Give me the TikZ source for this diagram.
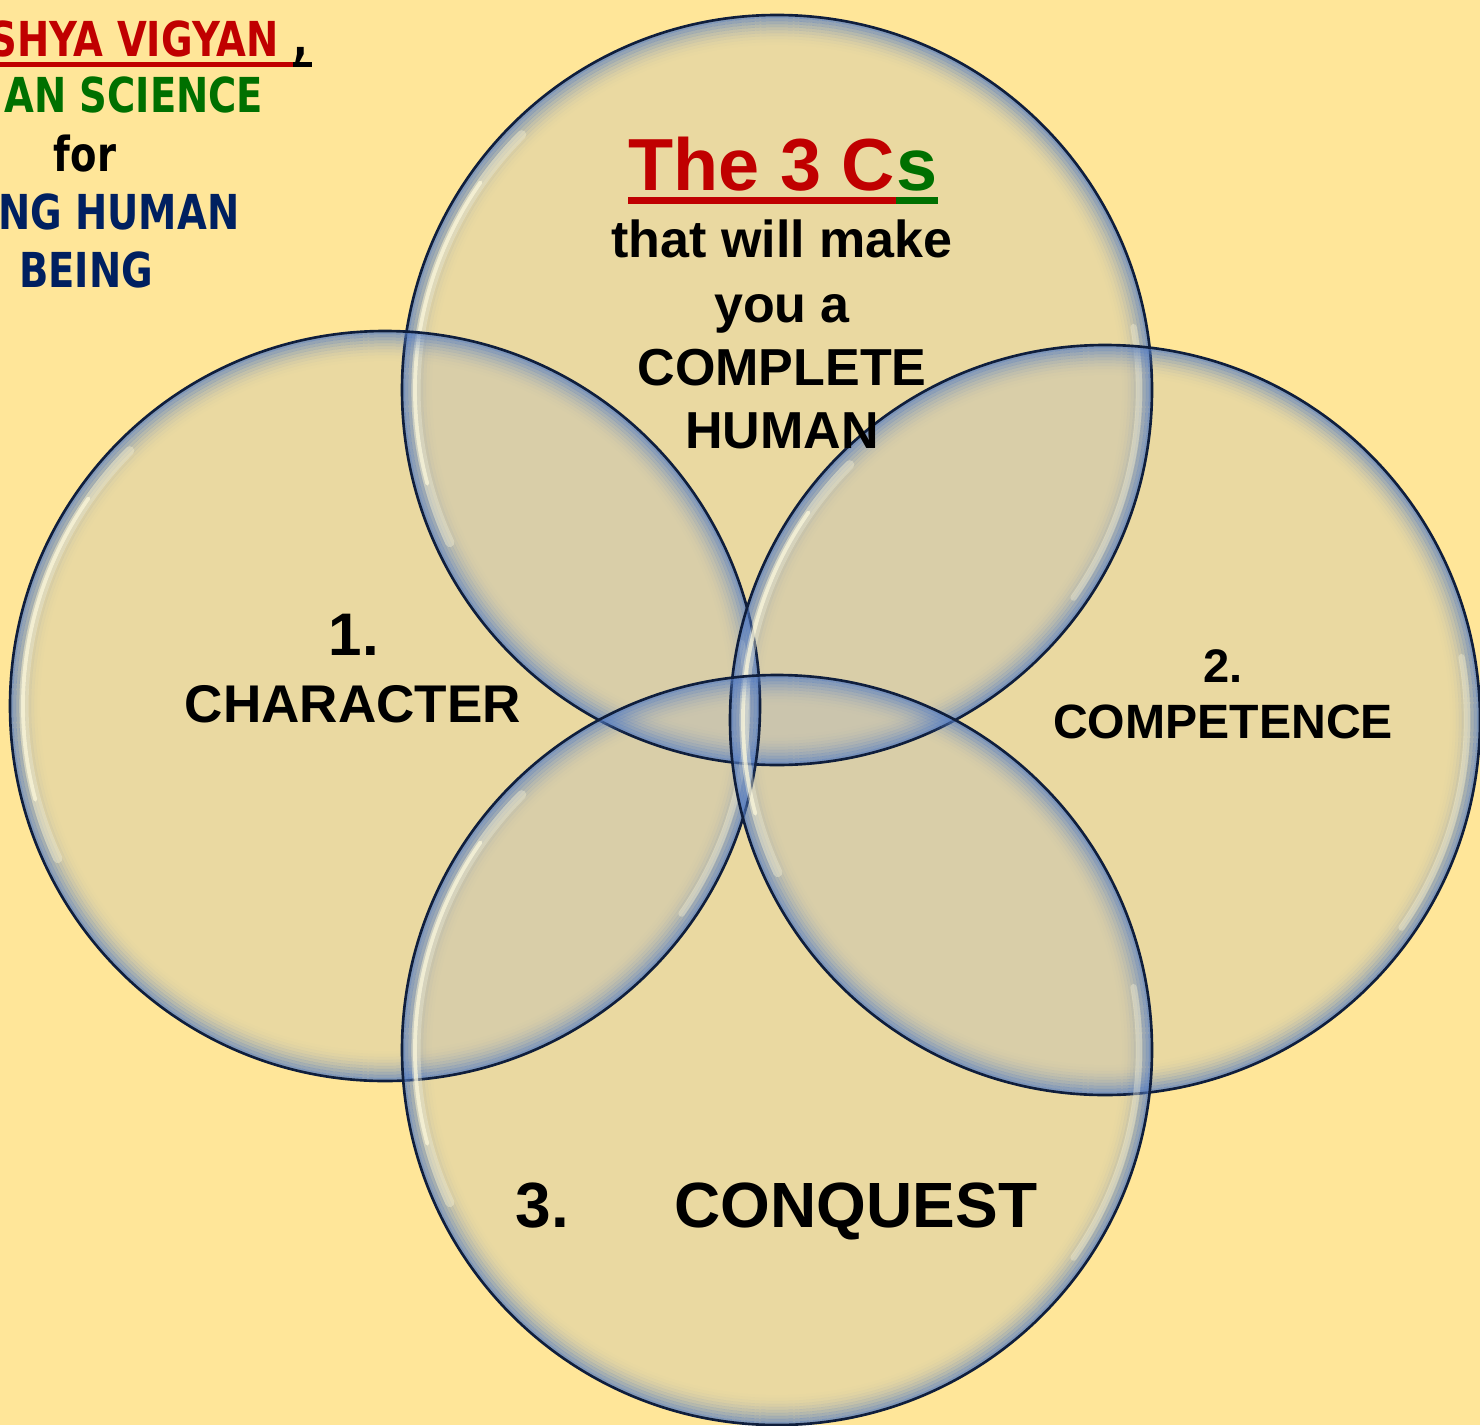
\documentclass[tikz,border=0pt]{standalone}
\usepackage{fontspec}
\setmainfont{Liberation Sans}
\newfontfamily\leftfont[FakeStretch=0.8]{DejaVu Sans}

\definecolor{bgyellow}{RGB}{255,230,153}
\definecolor{bubblefill}{RGB}{140,160,200}
\definecolor{glowblue}{RGB}{85,125,195}
\definecolor{rimnavy}{RGB}{15,30,60}
\definecolor{shine}{RGB}{255,250,220}
\definecolor{titlered}{RGB}{192,0,0}
\definecolor{titlegreen}{RGB}{0,112,0}
\definecolor{navytext}{RGB}{0,32,96}

\tikzset{
  bubble/.style={fill=bubblefill, fill opacity=0.18},
  rim/.style={draw=rimnavy, line width=0.75pt},
  txt/.style={inner sep=0pt, anchor=base, font=\bfseries\fontsize{#1}{#1}\selectfont},
  lefttxt/.style={inner sep=0pt, font=\leftfont\bfseries\fontsize{13.7}{16}\selectfont},
}

% glassy ring: blue glow inside the rim, a thin dark rim and two light streaks
\newcommand{\glassring}[1]{%
  \foreach \k [evaluate=\k as \op using 0.85*(1-\k/11)^2] in {1,...,10}
    \draw[glowblue, line width=0.9pt, draw opacity=\op] (#1) circle[radius=375-3*\k+1.5];
  \draw[shine, line width=2.6pt, draw opacity=0.35, line cap=round]
    (#1) ++(-135:361) arc[start angle=-135, end angle=-205, radius=361];
  \draw[shine, line width=1.1pt, draw opacity=0.7, line cap=round]
    (#1) ++(-145:362) arc[start angle=-145, end angle=-195, radius=362];
  \draw[shine, line width=1.8pt, draw opacity=0.35, line cap=round]
    (#1) ++(35:362) arc[start angle=35, end angle=-10, radius=362];
  \draw[rim] (#1) circle[radius=375];
}

\begin{document}
\begin{tikzpicture}[x=0.1mm, y=-0.1mm]
  \useasboundingbox (0,0) rectangle (1480,1425);
  \clip (0,0) rectangle (1480,1425);
  \fill[bgyellow] (0,0) rectangle (1480,1425);

  % centres of the four circles
  \coordinate (ctop) at (777,390);
  \coordinate (cleft) at (385,706);
  \coordinate (cright) at (1105,720);
  \coordinate (cbottom) at (777,1050);

  \foreach \c in {ctop,cleft,cright,cbottom}
    \fill[bubble] (\c) circle[radius=375];
  \foreach \c in {ctop,cleft,cright,cbottom}
    \glassring{\c};

  % heading top left
  \node[lefttxt, anchor=base east, text=titlered] (lt1) at (279,57) {SHYA VIGYAN};
  \node[lefttxt, anchor=base west] (comma) at (293,57) {,};
  \draw[titlered, line width=0.5mm] ([yshift=-0.75mm]lt1.base west) -- ([yshift=-0.75mm]comma.base west);
  \draw[black, line width=0.5mm] ([yshift=-0.75mm]comma.base west) -- ([yshift=-0.75mm,xshift=0.3mm]comma.base east);
  \node[lefttxt, anchor=base east, text=titlegreen] (lt2) at (264,113) {AN SCIENCE};
  \node[lefttxt, anchor=base] (lt3) at (85,172) {for};
  \node[lefttxt, anchor=base east, text=navytext] (lt4) at (240,230) {NG HUMAN};
  \node[lefttxt, anchor=base, text=navytext] (lt5) at (86,287) {BEING};

  % title in the top circle
  \node[txt=21, anchor=base west, text=titlered] (ttl) at (628,190) {The 3 C};
  \node[txt=21, anchor=base west, text=titlegreen] (ttls) at (ttl.base east) {s};
  \draw[titlered, line width=0.7mm] ([yshift=-1.05mm]ttl.base west) -- ([yshift=-1.05mm]ttl.base east);
  \draw[titlegreen, line width=0.7mm] ([yshift=-1.05mm]ttls.base west) -- ([yshift=-1.05mm]ttls.base east);
  \node[txt=14.8] (sub1) at (782,257) {that will make};
  \node[txt=14.8] (sub2) at (782,322) {you a};
  \node[txt=14.8] (sub3) at (782,385) {COMPLETE};
  \node[txt=14.8] (sub4) at (782,448) {HUMAN};

  % the three Cs
  \node[txt=17.1] (n1) at (354,655) {1.};
  \node[txt=15.1] (char) at (353,722) {CHARACTER};
  \node[txt=13.4] (n2) at (1223,682) {2.};
  \node[txt=13.7] (comp) at (1223,738) {COMPETENCE};
  \node[txt=18.2, anchor=base west] (n3) at (515,1227) {3.};
  \node[txt=18.2, anchor=base west] (conq) at (674,1227) {CONQUEST};
\end{tikzpicture}
\end{document}
